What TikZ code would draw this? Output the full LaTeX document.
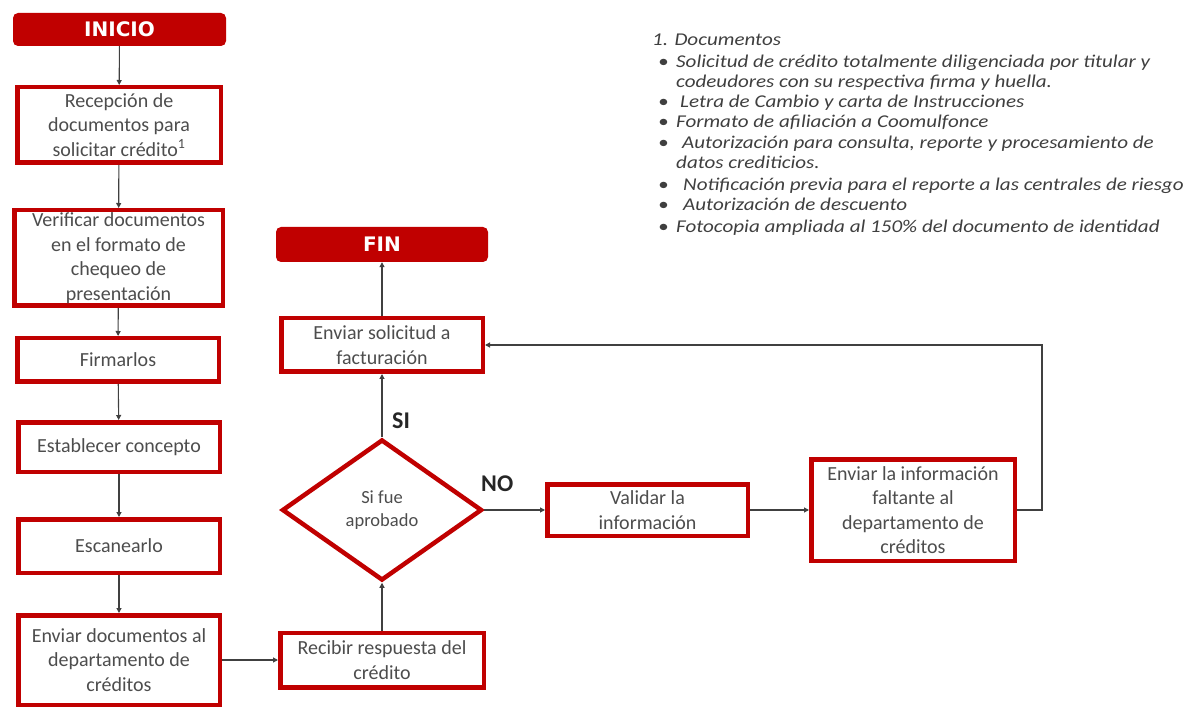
\documentclass[tikz,border=0pt]{standalone}
\usepackage{fontspec}
\setmainfont{Carlito}
\newfontfamily\headfont{DejaVu Sans}
\newfontfamily\notefont{Carlito}[FakeStretch=1.17]
\usetikzlibrary{arrows.meta,shapes.geometric}

\definecolor{boxred}{HTML}{C00000}
\definecolor{txtgray}{HTML}{4D4D4D}
\definecolor{linegray}{HTML}{404040}
\definecolor{notegray}{HTML}{3F3F3F}

\begin{document}
\begin{tikzpicture}[x=1pt,y=-1pt,
  stepbox/.style={draw=boxred, line width=4.5pt, fill=white, text=txtgray,
    align=center, inner sep=0pt, font=\fontsize{20}{24.5}\selectfont},
  terminal/.style={fill=boxred, rounded corners=5pt, text=white, inner sep=0pt,
    font=\headfont\bfseries\fontsize{20}{24}\selectfont},
  decision/.style={diamond, draw=boxred, line width=4.5pt, fill=white, text=txtgray,
    align=center, inner sep=0pt, font=\fontsize{18.5}{23}\selectfont},
  flow/.style={draw=linegray, line width=1.1pt, -{Triangle[length=5pt,width=5pt]}},
  answer/.style={text=black!85, font=\bfseries\fontsize{24}{28}\selectfont, inner sep=0pt},
  note/.style={text=notegray, anchor=base west, inner sep=0pt,
    font=\notefont\itshape\fontsize{18}{21}\selectfont},
]
\useasboundingbox (0,0) rectangle (1186,708);

% left column
\node[terminal, minimum width=213pt, minimum height=33pt] (inicio) at (119.5,29.5) {INICIO};
\node[stepbox, minimum width=203.5pt, minimum height=75.5pt] (recep) at (119,125)
  {Recepción de\\documentos para\\solicitar crédito\textsuperscript{1}};
\node[stepbox, minimum width=208.5pt, minimum height=95.5pt] (verif) at (118.5,258)
  {Verificar documentos\\en el formato de\\chequeo de\\presentación};
\node[stepbox, minimum width=201.5pt, minimum height=43.5pt] (firma) at (118,360) {Firmarlos};
\node[stepbox, minimum width=201.5pt, minimum height=49.5pt] (concepto) at (119,447) {Establecer concepto};
\node[stepbox, minimum width=201.5pt, minimum height=53.5pt] (escan) at (119,546) {Escanearlo};
\node[stepbox, minimum width=201.5pt, minimum height=89.5pt] (envdoc) at (119,660)
  {Enviar documentos al\\departamento de\\créditos};

% middle column
\node[terminal, minimum width=212pt, minimum height=35pt] (fin) at (382,244.5) {FIN};
\node[stepbox, minimum width=201.5pt, minimum height=53.5pt] (solic) at (382,345)
  {Enviar solicitud a\\facturación};
\node[decision, minimum width=200pt, minimum height=141pt] (aprob) at (382,510)
  {Si fue\\aprobado};
\node[stepbox, minimum width=203.5pt, minimum height=54.5pt] (recib) at (382,660)
  {Recibir respuesta del\\crédito};

% right branch
\node[stepbox, minimum width=200.5pt, minimum height=51.5pt] (valid) at (647.5,510)
  {Validar la\\información};
\node[stepbox, minimum width=203.5pt, minimum height=101.5pt] (falt) at (913,510)
  {Enviar la información\\faltante al\\departamento de\\créditos};

% connectors
\draw[flow] (inicio) -- (recep);
\draw[flow] (recep) -- (verif);
\draw[flow] (verif) -- (firma);
\draw[flow] (firma) -- (concepto);
\draw[flow] (concepto) -- (escan);
\draw[flow] (escan) -- (envdoc);
\draw[flow] (envdoc) -- (recib);
\draw[flow] (recib) -- (aprob);
\draw[flow] (aprob) -- (solic);
\draw[flow] (solic) -- (fin);
\draw[flow] (aprob) -- (valid);
\draw[flow] (valid) -- (falt);
\draw[flow] (falt.east) -- ++(25,0) |- (solic.east);

% branch labels
\node[answer, anchor=west] (si) at (392,421) {SI};
\node[answer, anchor=west] (no) at (481,484) {NO};

% document list
\node[note] (n0) at (652,46) {1. Documentos};
\foreach \y in {68,108,128,149,191,211,233}
  \node[note] at (658,\y) {\textbullet};
\node[note] (n1) at (676,68) {Solicitud de crédito totalmente diligenciada por titular y};
\node[note] (n1b) at (676,88) {codeudores con su respectiva firma y huella.};
\node[note] (n2) at (680,108) {Letra de Cambio y carta de Instrucciones};
\node[note] (n3) at (676,128) {Formato de afiliación a Coomulfonce};
\node[note] (n4) at (682,149) {Autorización para consulta, reporte y procesamiento de};
\node[note] (n4b) at (676,169) {datos crediticios.};
\node[note] (n5) at (683,191) {Notificación previa para el reporte a las centrales de riesgo};
\node[note] (n6) at (683,211) {Autorización de descuento};
\node[note] (n7) at (676,233) {Fotocopia ampliada al 150\% del documento de identidad};
\end{tikzpicture}
\end{document}
